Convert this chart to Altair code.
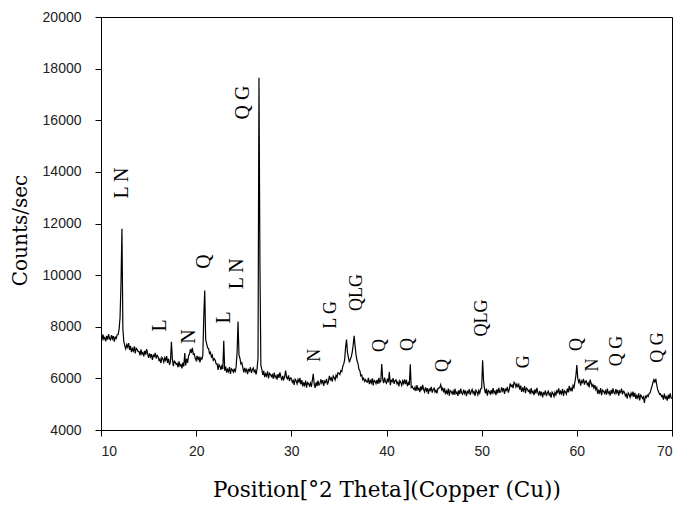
import altair as alt
import pandas as pd

# XRD scan: 10.0 -> 70.0 deg 2-theta, step 0.1 (counts)
scan_start = 10.0
scan_step = 0.1

counts_10_20 = [
    7800, 7470, 7700, 7520, 7580, 7430, 7650, 7500, 7710, 7540,
    7490, 7670, 7530, 7640, 7420, 7600, 7550, 7690, 7700, 7900,
    8350, 9650, 11800, 7900, 7420, 7260, 7140, 7310, 7210, 7370,
    7100, 7260, 7020, 7150, 7060, 7240, 6970, 7170, 7130, 7040,
    7040, 6890, 7120, 6940, 7000, 6850, 7070, 6920, 7130, 6960,
    6790, 6970, 6830, 6940, 6720, 6900, 6850, 6990, 6770, 6890,
    6840, 6690, 6760, 6590, 6810, 6750, 6630, 6800, 6700, 6860,
    6600, 6760, 6520, 6650, 7420, 6740, 6470, 6670, 6630, 6540,
    6580, 6430, 6660, 6480, 6540, 6390, 6610, 6460, 6980, 6500,
    6760, 6600, 6880, 6940, 7130, 6990, 7180, 6930, 6950, 6780,
]
counts_20_30 = [
    6690, 6870, 6730, 6840, 6620, 6800, 6750, 6890, 8400, 9400,
    7500, 7350, 7180, 7160, 6960, 7010, 6830, 6900, 6700, 6760,
    6700, 6560, 6560, 6330, 6530, 6470, 6330, 6480, 6360, 7460,
    6300, 6460, 6220, 6350, 6260, 6440, 6170, 6370, 6330, 6240,
    6380, 6230, 6460, 7000, 8200, 6900, 6780, 6560, 6600, 6420,
    6230, 6410, 6270, 6380, 6160, 6340, 6290, 6430, 6210, 6330,
    6400, 6250, 6320, 6150, 6370, 6800, 17650, 10400, 6500, 6350,
    6130, 6290, 6050, 6180, 6090, 6270, 6000, 6200, 6160, 6070,
    6140, 5990, 6220, 6040, 6100, 5950, 6170, 6020, 6230, 6060,
    5920, 6100, 5960, 6070, 6300, 6030, 5980, 6120, 5900, 6020,
]
counts_30_40 = [
    6000, 5850, 5920, 5750, 5970, 5910, 5790, 5960, 5860, 6020,
    5770, 5930, 5690, 5820, 5730, 5910, 5640, 5840, 5800, 5710,
    5820, 5670, 5900, 6180, 5780, 5630, 5850, 5700, 5910, 5740,
    5780, 5960, 5820, 5930, 5710, 5890, 5840, 5980, 5760, 5880,
    6100, 5950, 6020, 5870, 6090, 6030, 5940, 6120, 6040, 6220,
    6200, 6150, 6300, 6260, 6460, 6550, 6720, 7200, 7500, 7000,
    6800, 6620, 6740, 6830, 7020, 7300, 7650, 7250, 6920, 6680,
    6580, 6360, 6300, 6100, 6130, 5950, 6010, 5880, 5950, 5870,
    5860, 6020, 5780, 5910, 5820, 6000, 5730, 5930, 5890, 5800,
    5940, 5790, 6020, 5840, 5900, 6560, 5970, 5820, 6030, 5860,
]
counts_40_50 = [
    5810, 5990, 5850, 6250, 5740, 5920, 5870, 6010, 5790, 5910,
    5940, 5790, 5860, 5690, 5910, 5850, 5730, 5900, 5800, 5960,
    5780, 5940, 5700, 5830, 5740, 6550, 5650, 5690, 5610, 5560,
    5660, 5510, 5740, 5560, 5620, 5470, 5690, 5540, 5750, 5580,
    5470, 5650, 5510, 5620, 5400, 5580, 5530, 5670, 5450, 5570,
    5620, 5470, 5540, 5420, 5610, 5620, 5650, 5760, 5560, 5620,
    5460, 5620, 5380, 5510, 5420, 5600, 5330, 5530, 5490, 5400,
    5510, 5360, 5590, 5410, 5470, 5320, 5540, 5390, 5600, 5430,
    5380, 5560, 5420, 5530, 5310, 5490, 5440, 5580, 5360, 5480,
    5570, 5420, 5490, 5320, 5540, 5480, 5360, 5530, 5430, 5590,
]
counts_50_60 = [
    5620, 6700, 5900, 5580, 5420, 5600, 5330, 5530, 5490, 5400,
    5540, 5390, 5620, 5440, 5500, 5350, 5570, 5420, 5630, 5460,
    5470, 5650, 5510, 5620, 5400, 5580, 5530, 5670, 5450, 5570,
    5800, 5690, 5740, 5620, 5850, 5800, 5660, 5780, 5680, 5770,
    5560, 5720, 5480, 5610, 5520, 5700, 5430, 5630, 5590, 5500,
    5540, 5390, 5620, 5440, 5500, 5350, 5570, 5420, 5630, 5460,
    5330, 5510, 5370, 5480, 5260, 5440, 5390, 5530, 5310, 5430,
    5500, 5350, 5420, 5250, 5470, 5410, 5290, 5460, 5360, 5520,
    5450, 5610, 5370, 5500, 5410, 5590, 5320, 5520, 5480, 5390,
    5600, 5460, 5710, 5540, 5620, 5500, 5730, 5640, 5860, 6100,
]
counts_60_70 = [
    6520, 6000, 5850, 5940, 5720, 5900, 5840, 5980, 5760, 5880,
    5900, 5750, 5820, 5650, 5950, 5810, 5690, 5760, 5620, 5740,
    5560, 5640, 5400, 5530, 5440, 5620, 5350, 5550, 5510, 5420,
    5520, 5370, 5600, 5420, 5480, 5330, 5550, 5400, 5610, 5440,
    5400, 5580, 5440, 5550, 5330, 5510, 5460, 5600, 5380, 5500,
    5470, 5320, 5390, 5220, 5440, 5380, 5260, 5430, 5330, 5490,
    5280, 5440, 5200, 5330, 5240, 5420, 5150, 5350, 5310, 5220,
    5280, 5050, 5310, 5260, 5350, 5300, 5420, 5440, 5580, 5700,
    5850, 5950, 5860, 5980, 5740, 5560, 5470, 5380, 5400, 5300,
    5330, 5180, 5410, 5230, 5290, 5140, 5360, 5210, 5420, 5250,
    5220,
]

# Phase annotations (position in 2-theta, height in counts)
big_text = ["L N", "L", "N", "Q", "L", "L N", "Q G"]
big_x = [12.2, 16.2, 19.2, 20.8, 22.9, 24.25, 24.9]
big_y = [13570, 8050, 7620, 10530, 8360, 10050, 16690]

small_text = ["N", "L G", "QLG", "Q", "Q", "Q", "QLG", "G", "Q", "N", "Q G", "Q G"]
small_x = [32.5, 34.2, 36.85, 39.3, 42.25, 45.9, 50.0, 54.5, 60.0, 61.7, 64.2, 68.5]
small_y = [6900, 8460, 9330, 7270, 7310, 6500, 8340, 6640, 7310, 6520, 7060, 7200]

counts = counts_10_20 + counts_20_30 + counts_30_40 + counts_40_50 + counts_50_60 + counts_60_70
two_theta = [round(scan_start + i * scan_step, 2) for i in range(len(counts))]
scan = pd.DataFrame({"theta": two_theta, "counts": counts})
big = pd.DataFrame({"t": big_text, "x": big_x, "y": big_y})
small = pd.DataFrame({"t": small_text, "x": small_x, "y": small_y})

xs = alt.Scale(domain=[10, 70], nice=False, zero=False)
ys = alt.Scale(domain=[4000, 20000], nice=False, zero=False)

line = alt.Chart(scan).mark_line(color="black", strokeWidth=1.2, clip=True).encode(
    x=alt.X("theta:Q", scale=xs,
            axis=alt.Axis(values=[10, 20, 30, 40, 50, 60, 70], title="Position[°2 Theta](Copper (Cu))",
                          titleFont="DejaVu Serif", titleFontSize=21.5, titleFontWeight="normal",
                          titleColor="black", titleY=66, titleBaseline="alphabetic",
                          labelFont="Liberation Sans", labelFontSize=14, labelColor="#222",
                          labelPadding=8, tickSize=6, tickColor="black", domainColor="black",
                          grid=False)),
    y=alt.Y("counts:Q", scale=ys,
            axis=alt.Axis(values=list(range(4000, 20001, 2000)), format="d", title="Counts/sec",
                          titleFont="DejaVu Serif", titleFontSize=20, titleFontWeight="normal",
                          titleColor="black", titleX=-81, titleY=213, titleAngle=270,
                          titleAlign="center", titleBaseline="middle",
                          labelFont="Liberation Sans", labelFontSize=14, labelColor="#222",
                          labelPadding=14, tickSize=6, tickColor="black", domainColor="black",
                          grid=False)),
)

big_lbl = alt.Chart(big).mark_text(angle=270, font="Liberation Serif", fontSize=20,
                                   color="black", align="center", baseline="middle").encode(
    x=alt.X("x:Q", scale=xs), y=alt.Y("y:Q", scale=ys), text="t:N")

small_lbl = alt.Chart(small).mark_text(angle=270, font="Liberation Serif", fontSize=18,
                                       color="black", align="center", baseline="middle").encode(
    x=alt.X("x:Q", scale=xs), y=alt.Y("y:Q", scale=ys), text="t:N")

chart = alt.layer(line, big_lbl, small_lbl).properties(
    width=571, height=413,
    autosize=alt.AutoSizeParams(type="none"),
    padding={"left": 101, "top": 17, "right": 9, "bottom": 75},
    background="white",
).configure_view(stroke="black", strokeWidth=1)

chart.save("out.html", embed_options={"renderer": "svg", "actions": False})
